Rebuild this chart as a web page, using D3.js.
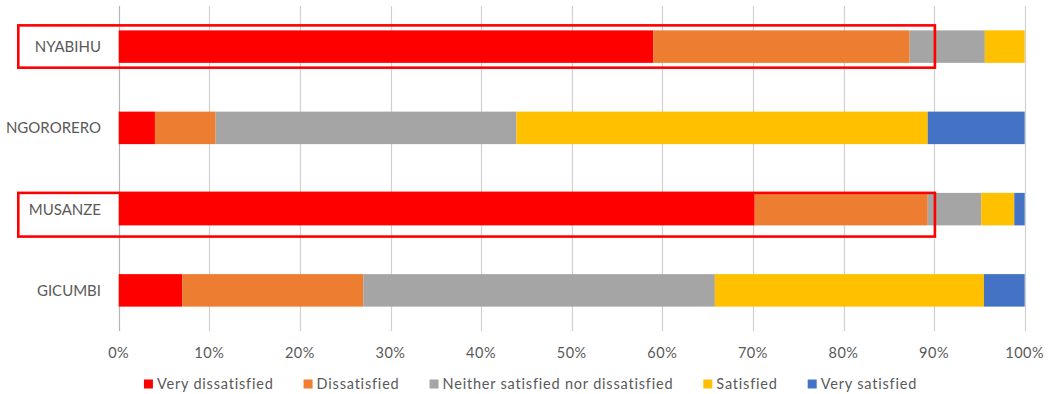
<!DOCTYPE html>
<html><head><meta charset="utf-8">
<script src="https://cdn.jsdelivr.net/npm/d3@7"></script>
<style>
html,body{margin:0;padding:0;background:#fff;}
svg{display:block;font-family:Lato,"Open Sans",sans-serif;}
</style></head>
<body>
<svg id="chart" width="1051" height="394"></svg>
<script>
const categories = ["NYABIHU","NGORORERO","MUSANZE","GICUMBI"];
const seriesNames = ["Very dissatisfied","Dissatisfied","Neither satisfied nor dissatisfied","Satisfied","Very satisfied"];
const veryDissatisfied = [59.0, 4.0, 70.2, 7.0];
const dissatisfied     = [28.3, 6.7, 19.1, 20.0];
const neither          = [8.3, 33.2, 5.9, 38.8];
const satisfied        = [4.4, 45.4, 3.65, 29.7];
const verySatisfied    = [0.0, 10.7, 1.15, 4.5];
const tickValues = [0,10,20,30,40,50,60,70,80,90,100];
const tickLabels = ["0%","10%","20%","30%","40%","50%","60%","70%","80%","90%","100%"];
const highlighted = ["NYABIHU","MUSANZE"];
const colors = ["#FF0000","#ED7D31","#A5A5A5","#FFC000","#4472C4"];

const seriesValues = [veryDissatisfied, dissatisfied, neither, satisfied, verySatisfied];
const rows = categories.map((c,i)=>{
  const o = {cat:c};
  seriesNames.forEach((s,j)=>o[s]=seriesValues[j][i]);
  return o;
});

const svg = d3.select("#chart");
const x = d3.scaleLinear().domain([0,100]).range([118.7,1024.7]);
const y = d3.scaleBand().domain(categories).range([6,331]).paddingInner(0.6).paddingOuter(0.3);
const textColor = "#595959";

// gridlines
svg.append("g").selectAll("line").data(tickValues).join("line")
  .attr("x1",d=>Math.round(x(d))+0.5).attr("x2",d=>Math.round(x(d))+0.5)
  .attr("y1",6).attr("y2",331)
  .attr("stroke",d=>d===0?"#b4b4b4":"#d0d0d0").attr("stroke-width",1.2);

// stacked bars
const stack = d3.stack().keys(seriesNames)(rows);
svg.append("g").selectAll("g").data(stack).join("g")
  .attr("fill",(d,i)=>colors[i])
  .selectAll("rect").data(d=>d).join("rect")
  .attr("x",d=>x(d[0])).attr("width",d=>Math.max(0,x(d[1])-x(d[0])))
  .attr("y",d=>y(d.data.cat)).attr("height",y.bandwidth());

// category labels
svg.append("g").selectAll("text").data(categories).join("text")
  .attr("x",101).attr("y",d=>y(d)+y.bandwidth()/2)
  .attr("dy","0.36em").attr("text-anchor","end")
  .attr("font-size",15).attr("fill",textColor).text(d=>d);

// x axis tick labels
svg.append("g").selectAll("text").data(tickValues).join("text")
  .attr("x",d=>x(d)).attr("y",358).attr("text-anchor","middle")
  .attr("font-size",14.5).attr("letter-spacing",0.5).attr("fill",textColor).text((d,i)=>tickLabels[i]);

// highlight boxes
const boxOffsets = {NYABIHU:[-5,4.8], MUSANZE:[0,11.2]};
svg.append("g").selectAll("rect").data(highlighted).join("rect")
  .attr("x",18.3).attr("width",x(90)+0.8-18.3)
  .attr("y",d=>y(d)+boxOffsets[d][0])
  .attr("height",d=>y.bandwidth()-boxOffsets[d][0]+boxOffsets[d][1])
  .attr("fill","none").attr("stroke","#FF0000").attr("stroke-width",2.6);

// legend
const lg = svg.append("g");
const items = lg.selectAll("g").data(seriesNames).join("g");
items.append("rect").attr("width",9).attr("height",9).attr("y",379.5).attr("fill",(d,i)=>colors[i]);
items.append("text").attr("x",13).attr("y",389).attr("font-size",14.5).attr("letter-spacing",0.8)
  .attr("fill",textColor).text(d=>d);
let cx = 0; const pos=[];
items.each(function(){
  const w = 13 + this.querySelector("text").getComputedTextLength();
  pos.push(cx); cx += w + 30;
});
const total = cx - 30;
const start = 530.5 - total/2;
items.attr("transform",(d,i)=>`translate(${start+pos[i]},0)`);
</script>
</body></html>
